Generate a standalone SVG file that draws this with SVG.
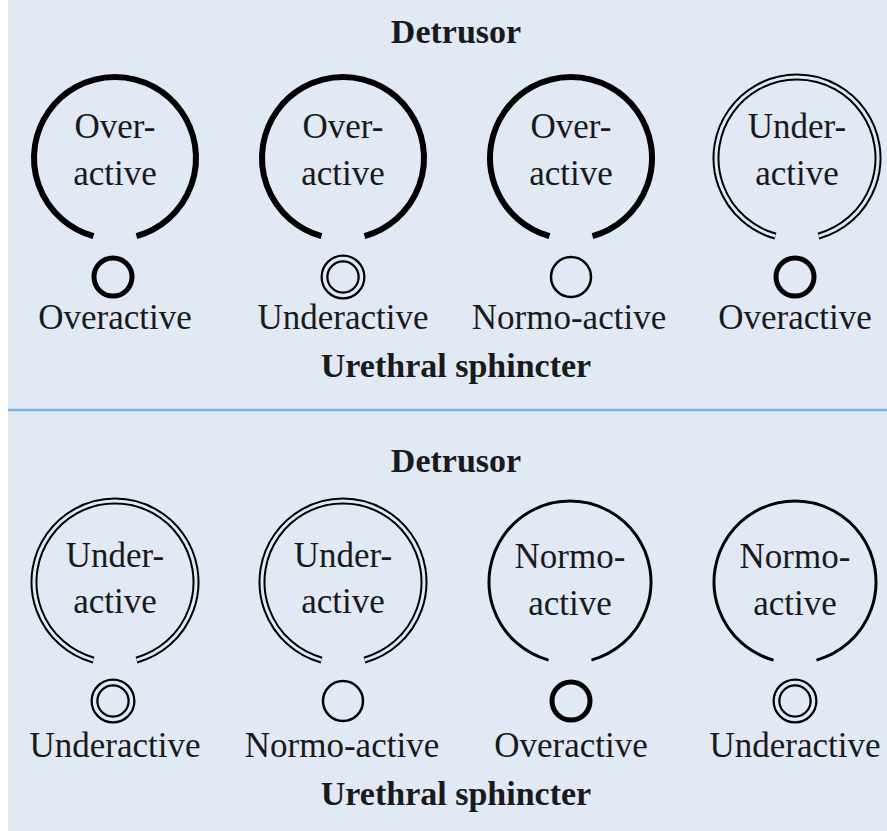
<svg xmlns="http://www.w3.org/2000/svg" xmlns:xlink="http://www.w3.org/1999/xlink" width="887" height="831" viewBox="0 0 887 831">
<style>
  .bg { fill: #e1e9f5; }
  text { font-family: "Liberation Serif", "Times New Roman", Tinos, "DejaVu Serif", serif; fill: #1a1a1a; text-anchor: middle; }
  .lbl { font-size: 35px; }
  .ttl { font-size: 34px; font-weight: bold; }
  .over { fill: none; stroke: #000; stroke-width: 6; }
  .normo { fill: none; stroke: #000; stroke-width: 3; }
  .dblo { fill: none; stroke: #000; stroke-width: 7; }
  .dbli { fill: none; stroke: #e1e9f5; stroke-width: 3; }
  .sover { fill: none; stroke: #000; stroke-width: 5; }
  .snormo { fill: none; stroke: #000; stroke-width: 2.5; }
  .sdblo { fill: none; stroke: #000; stroke-width: 8; }
  .sdbli { fill: none; stroke: #e1e9f5; stroke-width: 3.5; }
</style>
<defs>
  <path id="arc" d="M -21.5 78.1 A 81 81 0 1 1 21.5 78.1"/>
</defs>
<rect class="bg" x="8" y="0" width="879" height="831"/>
<line x1="8" y1="410" x2="887" y2="410" stroke="#7db0dc" stroke-width="2.5"/>

<g id="top-titles">
  <text class="ttl" x="456" y="43">Detrusor</text>
  <text class="ttl" x="456" y="377">Urethral sphincter</text>
</g>

<g id="t1">
  <use xlink:href="#arc" class="over" transform="translate(115 158)"/>
  <text class="lbl" x="115" y="138">Over-</text>
  <text class="lbl" x="115" y="185">active</text>
  <circle class="sover" cx="113" cy="277" r="19"/>
  <text class="lbl" x="115" y="329">Overactive</text>
</g>
<g id="t2">
  <use xlink:href="#arc" class="over" transform="translate(343 158)"/>
  <text class="lbl" x="343" y="138">Over-</text>
  <text class="lbl" x="343" y="185">active</text>
  <circle class="sdblo" cx="343" cy="277" r="18.5"/>
  <circle class="sdbli" cx="343" cy="277" r="18.5"/>
  <text class="lbl" x="343" y="329">Underactive</text>
</g>
<g id="t3">
  <use xlink:href="#arc" class="over" transform="translate(571 158)"/>
  <text class="lbl" x="571" y="138">Over-</text>
  <text class="lbl" x="571" y="185">active</text>
  <circle class="snormo" cx="571" cy="277" r="20"/>
  <text class="lbl" x="569" y="329">Normo-active</text>
</g>
<g id="t4">
  <use xlink:href="#arc" class="dblo" transform="translate(797 158)"/>
  <use xlink:href="#arc" class="dbli" transform="translate(797 158)"/>
  <text class="lbl" x="797" y="138">Under-</text>
  <text class="lbl" x="797" y="185">active</text>
  <circle class="sover" cx="795" cy="277" r="19"/>
  <text class="lbl" x="795" y="329">Overactive</text>
</g>

<g id="bottom-titles">
  <text class="ttl" x="456" y="472">Detrusor</text>
  <text class="ttl" x="456" y="805">Urethral sphincter</text>
</g>

<g id="b1">
  <use xlink:href="#arc" class="dblo" transform="translate(115 582)"/>
  <use xlink:href="#arc" class="dbli" transform="translate(115 582)"/>
  <text class="lbl" x="115" y="567">Under-</text>
  <text class="lbl" x="115" y="613">active</text>
  <circle class="sdblo" cx="113" cy="701" r="18.5"/>
  <circle class="sdbli" cx="113" cy="701" r="18.5"/>
  <text class="lbl" x="115" y="757">Underactive</text>
</g>
<g id="b2">
  <use xlink:href="#arc" class="dblo" transform="translate(343 582)"/>
  <use xlink:href="#arc" class="dbli" transform="translate(343 582)"/>
  <text class="lbl" x="343" y="567">Under-</text>
  <text class="lbl" x="343" y="613">active</text>
  <circle class="snormo" cx="343" cy="701" r="20"/>
  <text class="lbl" x="342" y="757">Normo-active</text>
</g>
<g id="b3">
  <use xlink:href="#arc" class="normo" transform="translate(570 582)"/>
  <text class="lbl" x="570" y="568">Normo-</text>
  <text class="lbl" x="570" y="615">active</text>
  <circle class="sover" cx="571" cy="701" r="19"/>
  <text class="lbl" x="571" y="757">Overactive</text>
</g>
<g id="b4">
  <use xlink:href="#arc" class="normo" transform="translate(795 582)"/>
  <text class="lbl" x="795" y="568">Normo-</text>
  <text class="lbl" x="795" y="615">active</text>
  <circle class="sdblo" cx="795" cy="701" r="18.5"/>
  <circle class="sdbli" cx="795" cy="701" r="18.5"/>
  <text class="lbl" x="795" y="757">Underactive</text>
</g>
</svg>
